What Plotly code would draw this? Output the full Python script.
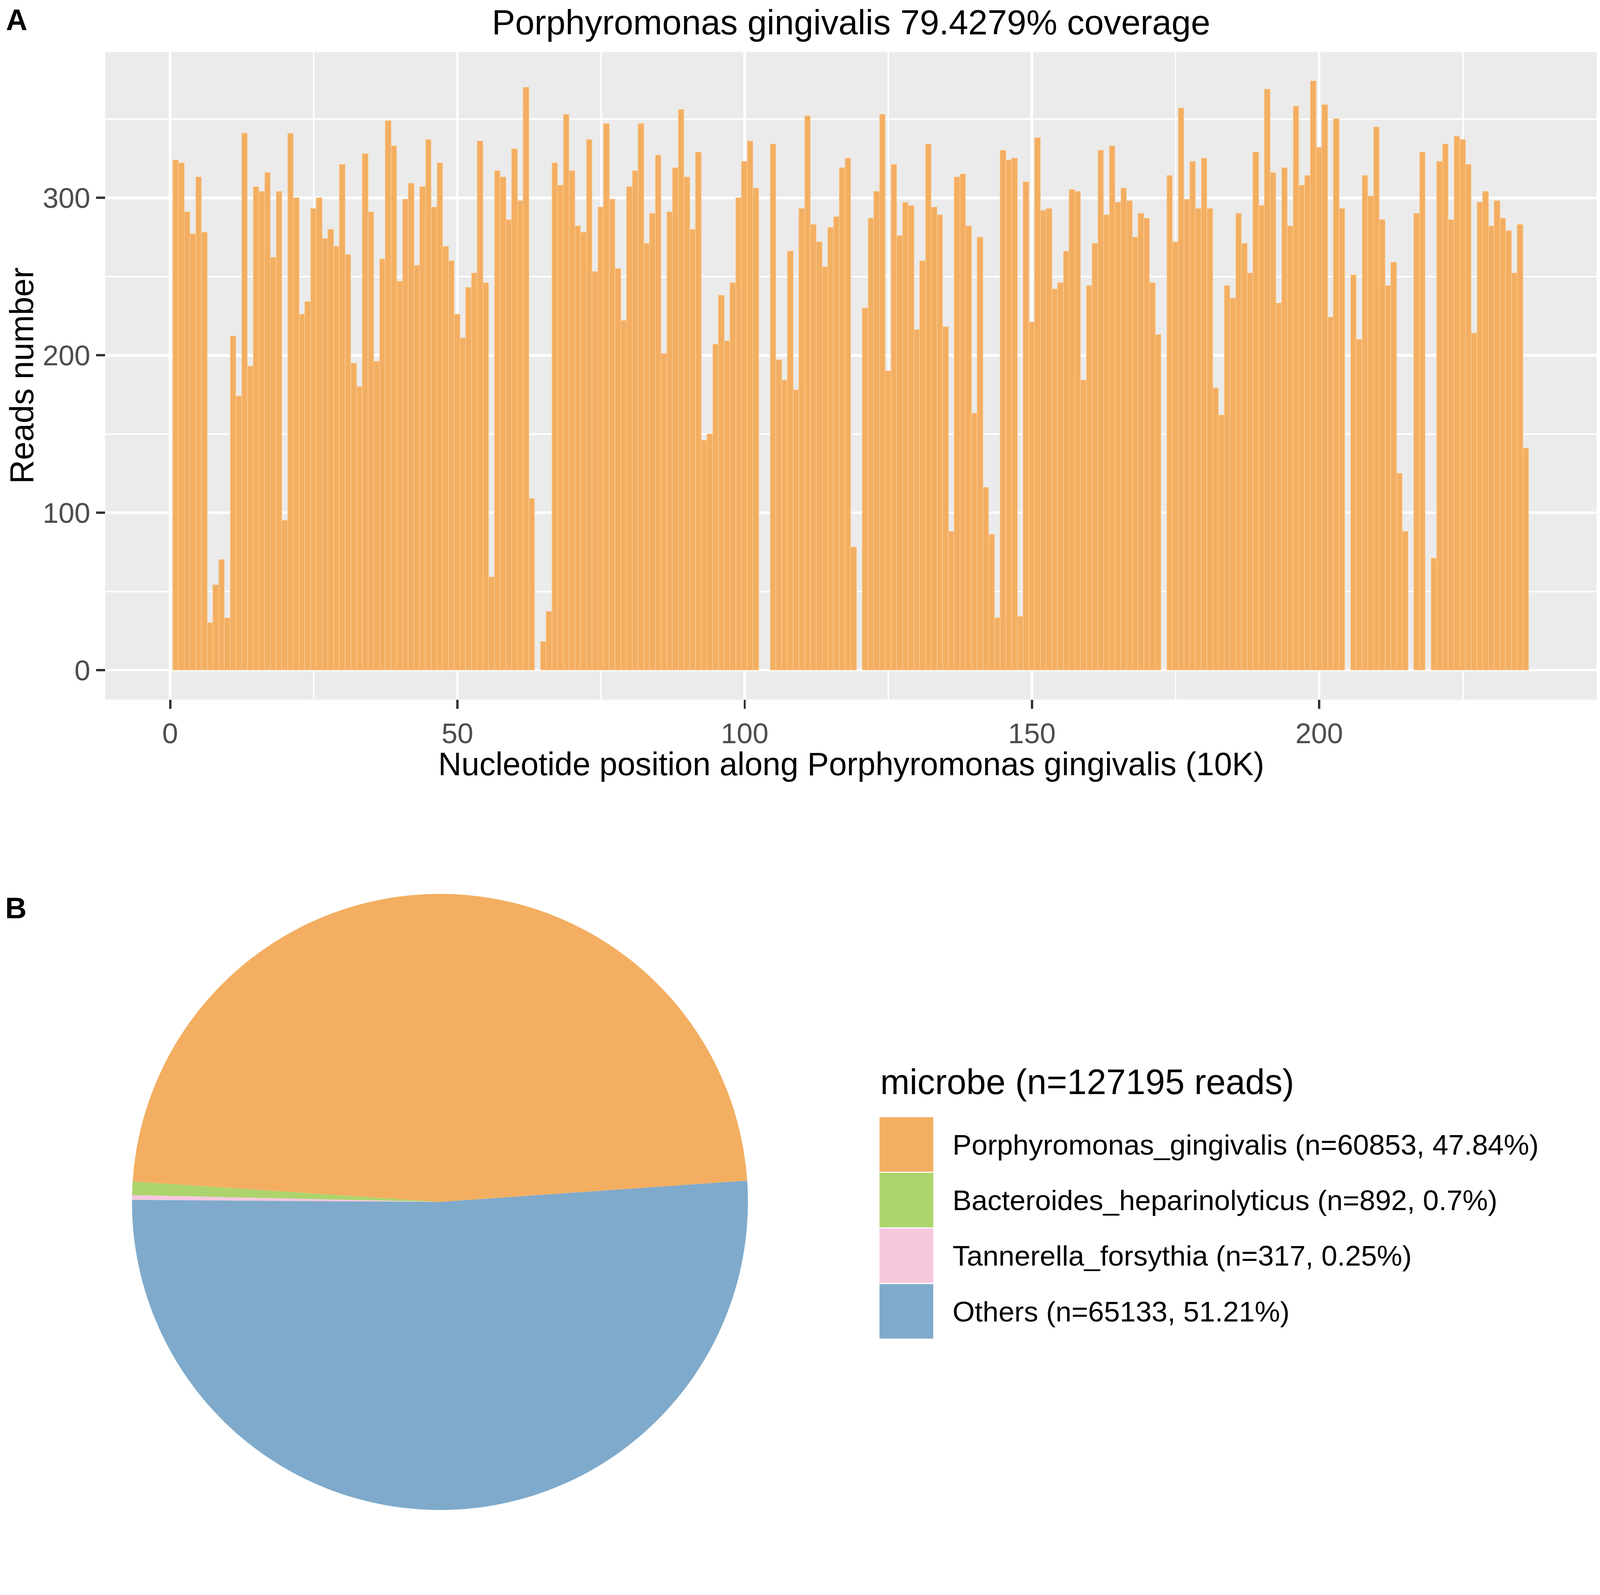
import plotly.graph_objects as go

W, H = 4317, 4082

# panel A: reads per 10K window along the genome
positions = list(range(1, 237))
reads = [
    324, 322, 291, 277, 313, 278, 30, 54, 70, 33,
    212, 174, 341, 193, 307, 304, 316, 262, 304, 95,
    341, 300, 226, 234, 293, 300, 274, 280, 269, 321,
    264, 195, 180, 328, 291, 196, 261, 349, 333, 247,
    299, 309, 257, 307, 337, 294, 322, 269, 260, 226,
    211, 243, 252, 336, 246, 59, 317, 313, 286, 331,
    298, 370, 109, 0, 18, 37, 322, 308, 353, 317,
    282, 278, 337, 253, 294, 347, 299, 255, 222, 307,
    317, 347, 271, 290, 327, 201, 291, 319, 356, 313,
    280, 329, 146, 150, 207, 238, 209, 246, 300, 323,
    336, 306, 0, 0, 334, 197, 184, 266, 178, 293,
    352, 283, 272, 256, 281, 288, 319, 325, 78, 0,
    230, 287, 304, 353, 190, 321, 276, 297, 295, 216,
    260, 334, 294, 289, 218, 88, 313, 315, 282, 163,
    275, 116, 86, 33, 330, 324, 325, 34, 310, 221,
    338, 292, 293, 242, 246, 266, 305, 304, 184, 244,
    271, 330, 289, 333, 297, 306, 298, 275, 290, 287,
    246, 213, 0, 314, 272, 357, 299, 323, 293, 325,
    293, 179, 162, 244, 236, 290, 271, 252, 329, 295,
    369, 316, 233, 319, 282, 358, 308, 314, 374, 332,
    359, 224, 350, 293, 0, 251, 210, 314, 301, 345,
    286, 244, 259, 125, 88, 0, 290, 329, 0, 71,
    323, 334, 286, 339, 337, 321, 214, 297, 304, 282,
    298, 287, 279, 252, 283, 141,
]
x_ticks = [0, 50, 100, 150, 200]
y_ticks = [0, 100, 200, 300]

# panel B: read share per microbe
microbes = ["Porphyromonas_gingivalis", "Bacteroides_heparinolyticus",
            "Tannerella_forsythia", "Others"]
counts = [60853, 892, 317, 65133]
shares = ["47.84%", "0.7%", "0.25%", "51.21%"]
colors = ["#F3AE61", "#ADD46C", "#F5C8DE", "#7FAACB"]
total_reads = 127195

FONT = "Liberation Sans"


def py(px):
    # pixel row from the top -> paper y
    return 1 - px / H


def pxx(px):
    return px / W


fig = go.Figure()

fig.add_trace(go.Bar(
    x=positions, y=[r if r > 0 else None for r in reads],
    marker=dict(color="#F3AE61", line=dict(color="#F9CD98", width=1.5)),
    showlegend=False, hoverinfo="x+y",
))

# counterclockwise from the left side, so the first slice sits on top
fig.add_trace(go.Pie(
    labels=microbes, values=counts, sort=False,
    direction="counterclockwise", rotation=-86.2,
    marker=dict(colors=colors, line=dict(width=0)),
    textinfo="none", showlegend=False,
    domain=dict(x=[pxx(1187 - 831), pxx(1187 + 831)], y=[py(4073), py(2411)]),
))

grid_major = 7
grid_minor = 3.5
fig.update_layout(
    width=W, height=H,
    margin=dict(l=0, r=0, t=0, b=0),
    paper_bgcolor="white", plot_bgcolor="#EBEBEB",
    bargap=0,
    font=dict(family=FONT, color="black"),
    xaxis=dict(
        domain=[pxx(284), pxx(4308)], range=[-11.3, 248.3],
        tickmode="array", tickvals=x_ticks, ticktext=[str(t) for t in x_ticks],
        showgrid=True, gridcolor="white", gridwidth=grid_major,
        minor=dict(dtick=25, tick0=0, showgrid=True, gridcolor="white",
                   gridwidth=grid_minor, ticks=""),
        zeroline=False, showline=False,
        ticks="outside", ticklen=24, tickwidth=6, tickcolor="#333333",
        tickfont=dict(size=77, color="#4D4D4D", family=FONT),
        fixedrange=True,
    ),
    yaxis=dict(
        domain=[py(1887), py(140)], range=[-18.7, 392.7],
        tickmode="array", tickvals=y_ticks, ticktext=[str(t) for t in y_ticks],
        showgrid=True, gridcolor="white", gridwidth=grid_major,
        minor=dict(dtick=50, tick0=0, showgrid=True, gridcolor="white",
                   gridwidth=grid_minor, ticks=""),
        zeroline=False, showline=False,
        ticks="outside", ticklen=24, tickwidth=6, tickcolor="#333333",
        tickfont=dict(size=77, color="#4D4D4D", family=FONT),
        fixedrange=True,
    ),
)

annotations = [
    dict(text="<b>A</b>", x=pxx(14), y=py(54), xanchor="left", yanchor="middle",
         font=dict(size=80)),
    dict(text="<b>B</b>", x=pxx(12), y=py(2449), xanchor="left", yanchor="middle",
         font=dict(size=80)),
    dict(text="Porphyromonas gingivalis 79.4279% coverage",
         x=pxx(2296), y=py(61), xanchor="center", yanchor="middle",
         font=dict(size=94)),
    dict(text="Nucleotide position along Porphyromonas gingivalis (10K)",
         x=pxx(2296), y=py(2060), xanchor="center", yanchor="middle",
         font=dict(size=87)),
    dict(text="Reads number", x=pxx(59), y=py(1013), xanchor="center",
         yanchor="middle", textangle=-90, font=dict(size=89)),
    dict(text=f"microbe (n={total_reads} reads)", x=pxx(2373), y=py(2918),
         xanchor="left", yanchor="middle", font=dict(size=95)),
]

shapes = []
key_top, key_h = 3012, 150
for i, (name, n, share, col) in enumerate(zip(microbes, counts, shares, colors)):
    y0 = key_top + i * key_h
    shapes.append(dict(type="rect", xref="paper", yref="paper",
                       x0=pxx(2373), x1=pxx(2518), y0=py(y0 + key_h - 1.5), y1=py(y0 + 1.5),
                       fillcolor=col, line=dict(width=0), layer="above"))
    annotations.append(dict(text=f"{name} (n={n}, {share})", x=pxx(2568),
                            y=py(y0 + key_h / 2), xanchor="left", yanchor="middle",
                            font=dict(size=77)))

for a in annotations:
    a.update(xref="paper", yref="paper", showarrow=False)

fig.update_layout(annotations=annotations, shapes=shapes)

# fit the fixed-size figure to whatever width the page is shown at
fit_page = """
var gd = document.getElementById('{plot_id}');
document.documentElement.style.overflow = 'hidden';
document.body.style.margin = '0';
document.body.style.overflow = 'hidden';
var s = document.documentElement.clientWidth / %d;
gd.style.transformOrigin = '0 0';
gd.style.transform = 'scale(' + s + ')';
""" % W

fig.write_html("out.html", post_script=fit_page, config={"displayModeBar": False})
